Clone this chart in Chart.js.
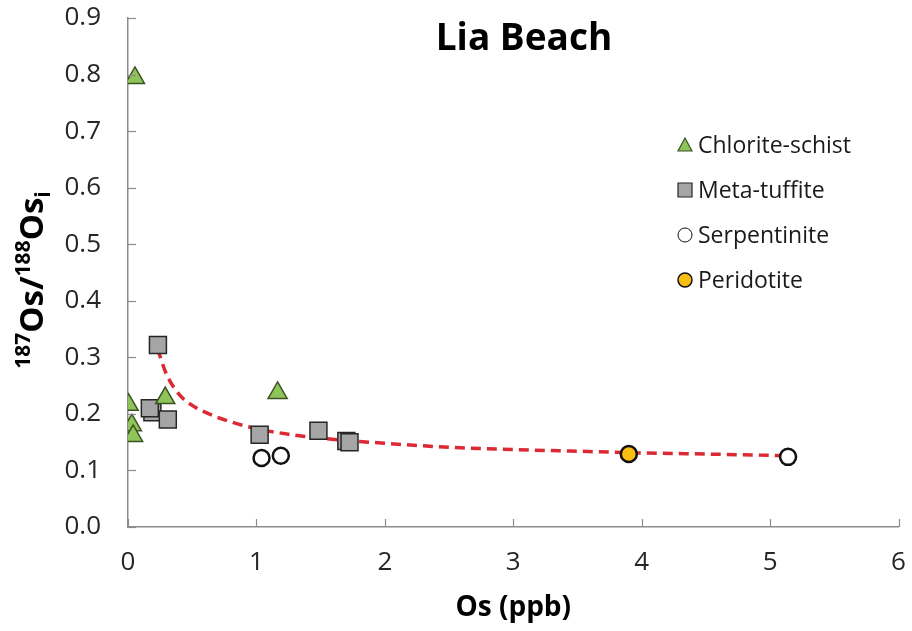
<!DOCTYPE html>
<html>
<head>
<meta charset="utf-8">
<script src="https://cdn.jsdelivr.net/npm/chart.js@4/dist/chart.umd.min.js"></script>
<style>
  html, body { margin: 0; padding: 0; background: #fff; }
  #wrap { width: 912px; height: 631px; }
</style>
</head>
<body>
<div id="wrap"><canvas id="osChart" width="912" height="631"></canvas></div>
<script>
// data
const chloriteX = [0.054, 0.005, 0.03, 0.04, 0.29, 1.165];
const chloriteY = [0.794, 0.216, 0.18, 0.161, 0.228, 0.237];

const tuffiteX = [0.233, 0.19, 0.17, 0.31, 1.025, 1.483, 1.70, 1.725];
const tuffiteY = [0.322, 0.203, 0.21, 0.19, 0.163, 0.17, 0.152, 0.150];

const serpX = [1.04, 1.19, 5.14];
const serpY = [0.122, 0.126, 0.124];

const peridX = [3.90];
const peridY = [0.129];

// dashed trend line
const fitX = [0.23, 0.3, 0.4, 0.5, 0.6, 0.8, 1.0, 1.25, 1.5, 2.0, 2.5, 3.0, 3.5, 4.0, 4.5, 5.14];
const fitY = [0.315, 0.27, 0.234, 0.215, 0.203, 0.186, 0.174, 0.164, 0.157, 0.148, 0.141, 0.137, 0.134, 0.131, 0.129, 0.126];

const xTicks = [0, 1, 2, 3, 4, 5, 6];
const yTicks = [0, 0.1, 0.2, 0.3, 0.4, 0.5, 0.6, 0.7, 0.8, 0.9];

const FONT = "'Open Sans', 'DejaVu Sans', sans-serif";

function toPoints(xs, ys) {
  return xs.map((x, i) => ({ x: x, y: ys[i] }));
}

// inward tick marks, titles and the legend box
const decorPlugin = {
  id: "decor",
  afterDraw(chart) {
    const ctx = chart.ctx;
    const xs = chart.scales.x;
    const ys = chart.scales.y;
    const area = chart.chartArea;

    ctx.save();
    ctx.strokeStyle = "#8c8c8c";
    ctx.lineWidth = 1.2;
    xTicks.forEach((v) => {
      const px = Math.round(xs.getPixelForValue(v)) + 0.5;
      ctx.beginPath();
      ctx.moveTo(px, area.bottom);
      ctx.lineTo(px, area.bottom - 8);
      ctx.stroke();
    });
    yTicks.forEach((v) => {
      const py = Math.round(ys.getPixelForValue(v)) + 0.5;
      ctx.beginPath();
      ctx.moveTo(area.left, py);
      ctx.lineTo(area.left + 8, py);
      ctx.stroke();
    });

    // chart title
    ctx.fillStyle = "#000";
    ctx.font = "bold 37px " + FONT;
    ctx.textAlign = "center";
    ctx.textBaseline = "alphabetic";
    ctx.fillText("Lia Beach", 524, 50);

    // x title
    ctx.font = "bold 28px " + FONT;
    ctx.fillText("Os (ppb)", (area.left + area.right) / 2, 616);

    // y title with super/subscripts
    const parts = [
      { t: "187", f: "bold 21px " + FONT, dy: -13 },
      { t: "Os/", f: "bold 33px " + FONT, dy: 0 },
      { t: "188", f: "bold 21px " + FONT, dy: -13 },
      { t: "Os", f: "bold 33px " + FONT, dy: 0 },
      { t: "i", f: "bold 21px " + FONT, dy: 7 },
    ];
    let total = 0;
    parts.forEach((p) => {
      ctx.font = p.f;
      p.w = ctx.measureText(p.t).width;
      total += p.w;
    });
    ctx.translate(43, 280);
    ctx.rotate(-Math.PI / 2);
    ctx.textAlign = "left";
    let cx = -total / 2;
    parts.forEach((p) => {
      ctx.font = p.f;
      ctx.fillText(p.t, cx, p.dy);
      cx += p.w;
    });
    ctx.restore();

    // legend inside the plot
    ctx.save();
    const rows = [145, 190, 235, 280];
    let r = 0;
    chart.data.datasets.forEach((ds) => {
      if (ds.showInLegend === false) return;
      const y = rows[r++];
      const x = 685;
      ctx.fillStyle = ds.backgroundColor;
      ctx.strokeStyle = ds.borderColor;
      ctx.lineWidth = ds.legendBorder;
      ctx.beginPath();
      if (ds.pointStyle === "triangle") {
        ctx.moveTo(x, y - 7);
        ctx.lineTo(x + 7, y + 6);
        ctx.lineTo(x - 7, y + 6);
        ctx.closePath();
      } else if (ds.pointStyle === "rect") {
        ctx.rect(x - 7, y - 7, 14, 14);
      } else {
        ctx.arc(x, y, 7, 0, Math.PI * 2);
      }
      ctx.fill();
      ctx.stroke();
      ctx.fillStyle = "#1a1a1a";
      ctx.font = "23px " + FONT;
      ctx.textAlign = "left";
      ctx.textBaseline = "middle";
      ctx.fillText(ds.label, 698, y + 1);
    });
    ctx.restore();
  },
};

new Chart(document.getElementById("osChart").getContext("2d"), {
  type: "scatter",
  data: {
    datasets: [
      {
        label: "Chlorite-schist",
        data: toPoints(chloriteX, chloriteY),
        pointStyle: "triangle",
        pointRadius: 11,
        backgroundColor: "#8fc45a",
        borderColor: "#3b5323",
        borderWidth: 1.5,
        legendBorder: 1.2,
        order: 1,
      },
      {
        label: "Meta-tuffite",
        data: toPoints(tuffiteX, tuffiteY),
        pointStyle: "rect",
        pointRadius: 12,
        backgroundColor: "#a5a5a5",
        borderColor: "#262626",
        borderWidth: 1.5,
        legendBorder: 1.2,
        order: 1,
      },
      {
        label: "Serpentinite",
        data: toPoints(serpX, serpY),
        pointStyle: "circle",
        pointRadius: 8,
        backgroundColor: "#ffffff",
        borderColor: "#111111",
        borderWidth: 2.5,
        legendBorder: 1,
        order: 1,
      },
      {
        label: "Peridotite",
        data: toPoints(peridX, peridY),
        pointStyle: "circle",
        pointRadius: 8,
        backgroundColor: "#fbbd10",
        borderColor: "#111111",
        borderWidth: 2.5,
        legendBorder: 1.5,
        order: 1,
      },
      {
        label: "trend",
        showInLegend: false,
        data: toPoints(fitX, fitY),
        showLine: true,
        pointRadius: 0,
        borderColor: "#dc2a33",
        borderWidth: 3.5,
        borderDash: [10, 6],
        cubicInterpolationMode: "monotone",
        fill: false,
        order: 2,
      },
    ],
  },
  options: {
    responsive: false,
    animation: false,
    layout: { padding: { left: 0, right: 12, top: 18, bottom: 0 } },
    plugins: {
      legend: { display: false },
      tooltip: { enabled: false },
    },
    scales: {
      x: {
        type: "linear",
        min: 0,
        max: 6,
        afterBuildTicks: (scale) => {
          scale.ticks = xTicks.map((v) => ({ value: v }));
        },
        ticks: {
          color: "#262626",
          font: { family: FONT, size: 26 },
          padding: 20,
          callback: (v) => String(v),
        },
        grid: { display: false, drawTicks: false },
        border: { display: true, color: "#8c8c8c", width: 1.5 },
        afterFit: (scale) => {
          scale.height = 104;
          scale.paddingLeft = 0;
          scale.paddingRight = 0;
        },
      },
      y: {
        type: "linear",
        min: 0,
        max: 0.9,
        afterBuildTicks: (scale) => {
          scale.ticks = yTicks.map((v) => ({ value: v }));
        },
        ticks: {
          color: "#262626",
          font: { family: FONT, size: 26 },
          padding: 27,
          callback: (v) => Number(v).toFixed(1),
        },
        grid: { display: false, drawTicks: false },
        border: { display: true, color: "#8c8c8c", width: 1.5 },
        afterFit: (scale) => {
          scale.width = 128;
          scale.paddingTop = 0;
          scale.paddingBottom = 0;
        },
      },
    },
  },
  plugins: [decorPlugin],
});
</script>
</body>
</html>
